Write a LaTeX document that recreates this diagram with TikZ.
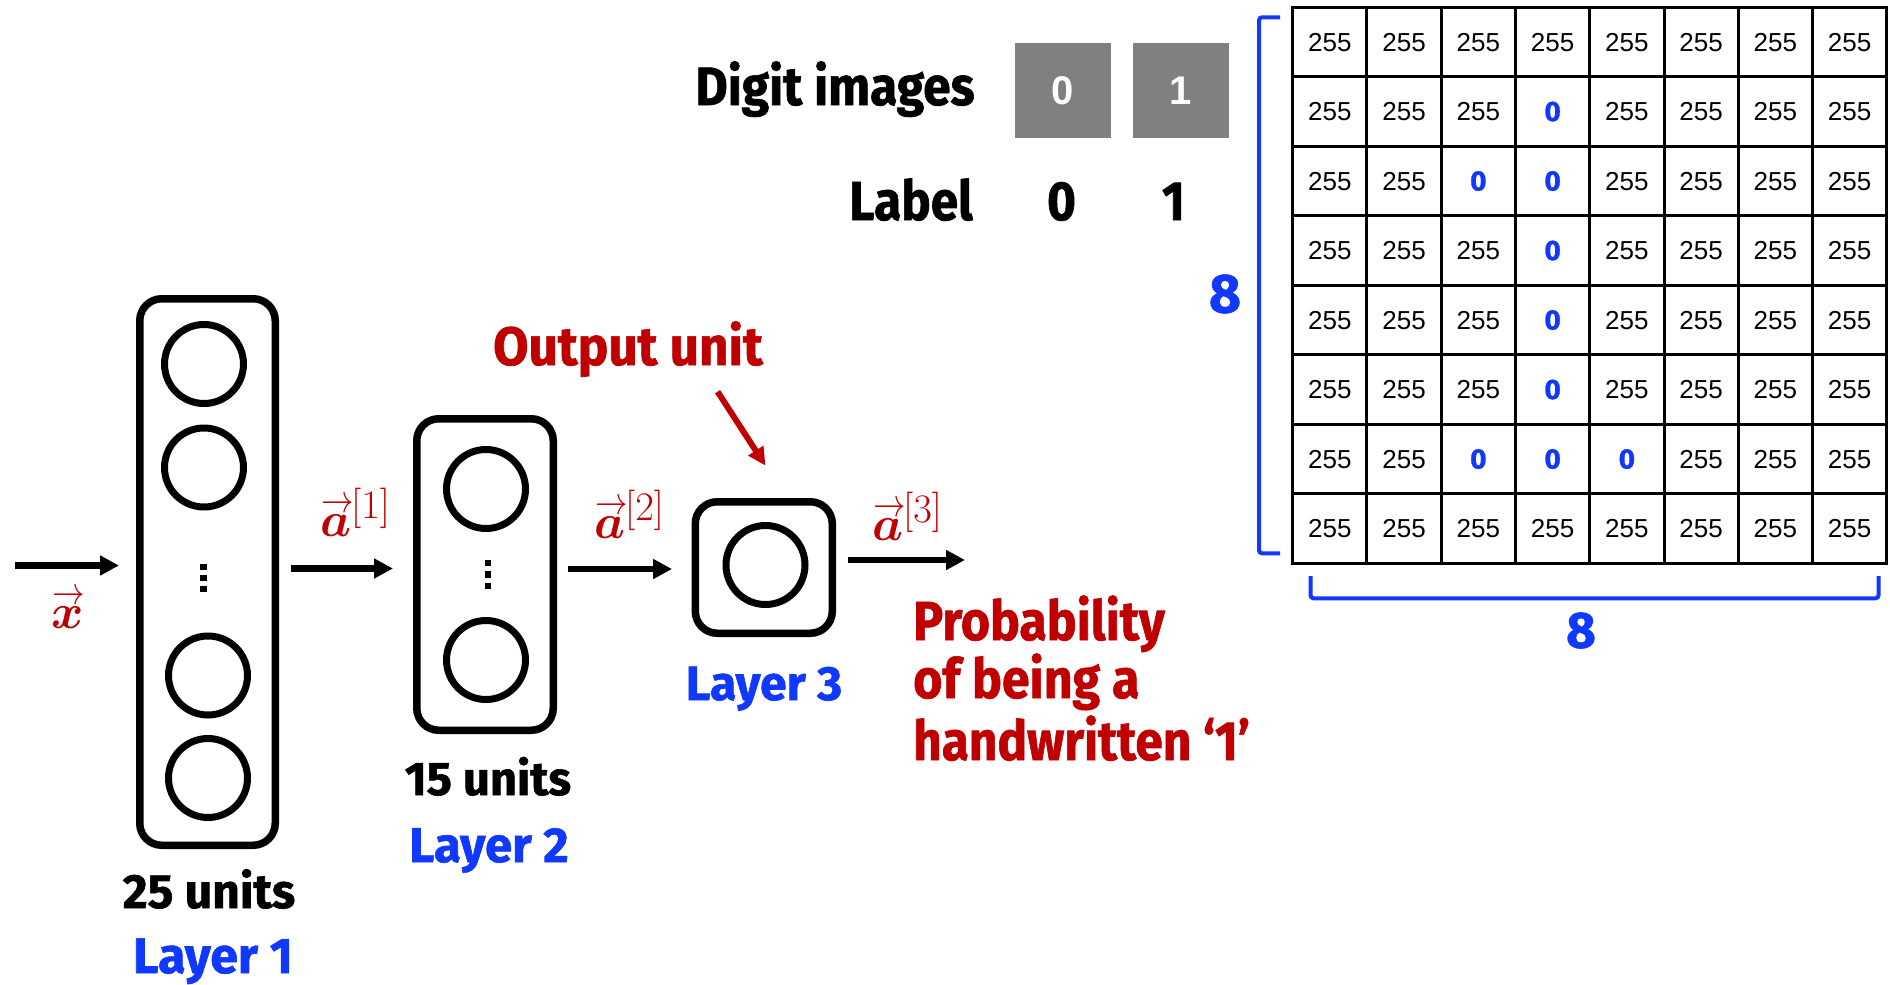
\RequirePackage{fix-cm}
\documentclass[tikz,border=0pt]{standalone}
\usepackage{amsmath}
\usepackage{bm}
\usepackage{fontspec}
\setmainfont{Fira Sans}[BoldFeatures={FakeBold=1.2}]
\newfontfamily\gridfont{Liberation Sans}
\usetikzlibrary{arrows.meta}

\definecolor{accred}{RGB}{192,0,0}
\definecolor{accblue}{RGB}{16,56,255}
\definecolor{pixgray}{RGB}{128,128,128}

\newcommand\fsz[1]{\fontsize{#1}{#1}\selectfont}
% horizontally condensed text
\newcommand\narrow[2]{\scalebox{#1}[1]{#2}}
% bold vector symbol with a layer superscript; the arrow spans only the letter
\newsavebox\vecbox
\newcommand\actvec[2]{%
  \sbox\vecbox{$\bm{#1}$}%
  \rlap{\makebox[\wd\vecbox][c]{\hspace{0.06em}\raisebox{0.47em}{\scalebox{0.66}[0.8]{$\rightarrow$}}}}%
  $\bm{#1}^{\scalebox{1.18}{$\scriptstyle #2$}}$}

\begin{document}
\begin{tikzpicture}[x=1pt,y=-1pt,
  layerbox/.style={draw, line width=7.5pt, rounded corners=22pt, inner sep=0pt},
  unit/.style={draw, circle, line width=7pt, minimum size=79pt, inner sep=0pt},
  vdot/.style={fill, minimum size=6.5pt, inner sep=0pt},
  arr/.style={-{Triangle[length=19pt,width=19pt]}, line width=6.5pt},
  redarr/.style={accred, -{Triangle[length=18pt,width=17pt]}, line width=6pt},
  disp/.style={inner sep=0pt, anchor=base, font=\bfseries},
  vlabel/.style={inner sep=0pt, anchor=base west, text=accred},
  cell/.style={draw, line width=3pt, minimum width=74.26pt, minimum height=69.5pt, inner sep=0pt},
  brk/.style={accblue, line width=4pt, rounded corners=3pt},
  pixbox/.style={fill=pixgray, minimum height=95pt, inner sep=0pt, text=white,
      font=\gridfont\bfseries\fsz{40}},
]
\useasboundingbox (0,0) rectangle (1890,985);

% ---- layer boxes ----
\node[layerbox, minimum width=135.5pt, minimum height=546.5pt] (L1) at (207.5,572) {};
\node[layerbox, minimum width=136.5pt, minimum height=311.5pt] (L2) at (485,574.5) {};
\node[layerbox, minimum width=137pt, minimum height=131.5pt] (L3) at (763.8,567.5) {};

% ---- units ----
\node[unit] (u11) at (204,364) {};
\node[unit] (u12) at (204,467.5) {};
\node[unit] (u13) at (208,675.5) {};
\node[unit] (u14) at (208,778) {};
\node[vdot] (d11) at (203.5,567) {};
\node[vdot] (d12) at (203.5,578) {};
\node[vdot] (d13) at (203.5,589) {};

\node[unit] (u21) at (486,489) {};
\node[unit] (u22) at (486,660) {};
\node[vdot] (d21) at (488,563) {};
\node[vdot] (d22) at (488,574.5) {};
\node[vdot] (d23) at (488,586) {};

\node[unit] (u31) at (765.5,565) {};

% ---- connectors ----
\coordinate (xin) at (15,565.5);
\coordinate (pout) at (965,560);
\draw[arr, shorten >=17pt] (xin) -- (xin -| L1.west);
\draw[arr, shorten <=12pt, shorten >=20pt] ([yshift=3.5pt]L1.east) -- ([yshift=3.5pt]L1.east -| L2.west);
\draw[arr, shorten <=11pt, shorten >=19.5pt] ([yshift=5.5pt]L2.east) -- ([yshift=5.5pt]L2.east -| L3.west);
\draw[arr, shorten <=12pt] (L3.east |- pout) -- (pout);

% ---- vector labels ----
\node[vlabel] (lx) at (51,628) {\fsz{49}\actvec{x}{}};
\node[vlabel] (la1) at (320,536) {\fsz{49}\actvec{a}{[1]}};
\node[vlabel] (la2) at (594,538) {\fsz{49}\actvec{a}{[2]}};
\node[vlabel] (la3) at (872,540) {\fsz{49}\actvec{a}{[3]}};

% ---- output unit callout ----
\node[disp, text=accred] (outlbl) at (628,365) {\fsz{54}\narrow{0.95}{Output unit}};
\coordinate (otail) at (717.6,391.7);
\coordinate (otip) at (765.5,465.7);
\draw[redarr] (otail) -- (otip);

% ---- layer captions ----
\node[disp] (n25) at (209,908) {\fsz{48}25 units};
\node[disp, text=accblue] (lay1) at (213,973) {\fsz{50}Layer 1};
\node[disp] (n15) at (488,795) {\fsz{47}15 units};
\node[disp, text=accblue] (lay2) at (489,862) {\fsz{49}Layer 2};
\node[disp, text=accblue] (lay3) at (764,700) {\fsz{48}Layer 3};

\node[disp, text=accred, anchor=base west] (p1) at (913,640) {\fsz{55}\narrow{0.91}{Probability}};
\node[disp, text=accred, anchor=base west] (p2) at (913,698) {\fsz{55}\narrow{0.91}{of being a}};
\node[disp, text=accred, anchor=base west] (p3) at (913,760) {\fsz{55}\narrow{0.9}{handwritten `1'}};

% ---- digit images and labels ----
\node[disp] (dimg) at (835,105) {\fsz{54}\narrow{0.92}{Digit images}};
\node[pixbox, minimum width=95.6pt] (g0) at (1062.7,90.8) {0};
\node[pixbox, minimum width=96.5pt] (g1) at (1181,90.8) {1};
\node[disp] (lab) at (911,220) {\fsz{55}\narrow{0.9}{Label}};
\node[disp] (lab0) at (1061.5,220) {\fsz{55}\narrow{0.9}{0}};
\node[disp] (lab1) at (1173.5,220) {\fsz{55}\narrow{0.9}{1}};

% ---- 8x8 pixel grid ----
\foreach \row [count=\r from 0] in {
  {1,1,1,1,1,1,1,1},
  {1,1,1,0,1,1,1,1},
  {1,1,0,0,1,1,1,1},
  {1,1,1,0,1,1,1,1},
  {1,1,1,0,1,1,1,1},
  {1,1,1,0,1,1,1,1},
  {1,1,0,0,0,1,1,1},
  {1,1,1,1,1,1,1,1}} {
  \foreach \v [count=\c from 0] in \row {
    \ifnum\v=0
      \node[cell, font=\bfseries\fsz{28}, text=accblue] (cell-\r-\c)
        at ({1292.7+74.26*(\c+0.5)},{7.3+69.5*(\r+0.5)}) {0};
    \else
      \node[cell, font=\gridfont\fsz{26}] (cell-\r-\c)
        at ({1292.7+74.26*(\c+0.5)},{7.3+69.5*(\r+0.5)}) {255};
    \fi
  }
}

% ---- size brackets ----
\draw[brk] (1280,17.3) -- (1259,17.3) -- (1259,553.3) -- (1280,553.3);
\draw[brk] (1310.5,576) -- (1310.5,598.3) -- (1878.5,598.3) -- (1878.5,576);
\node[disp, text=accblue, anchor=center] (rows8) at (1225,294) {\fsz{55}8};
\node[disp, text=accblue, anchor=center] (cols8) at (1581,630.5) {\fsz{51}8};

\end{tikzpicture}
\end{document}
